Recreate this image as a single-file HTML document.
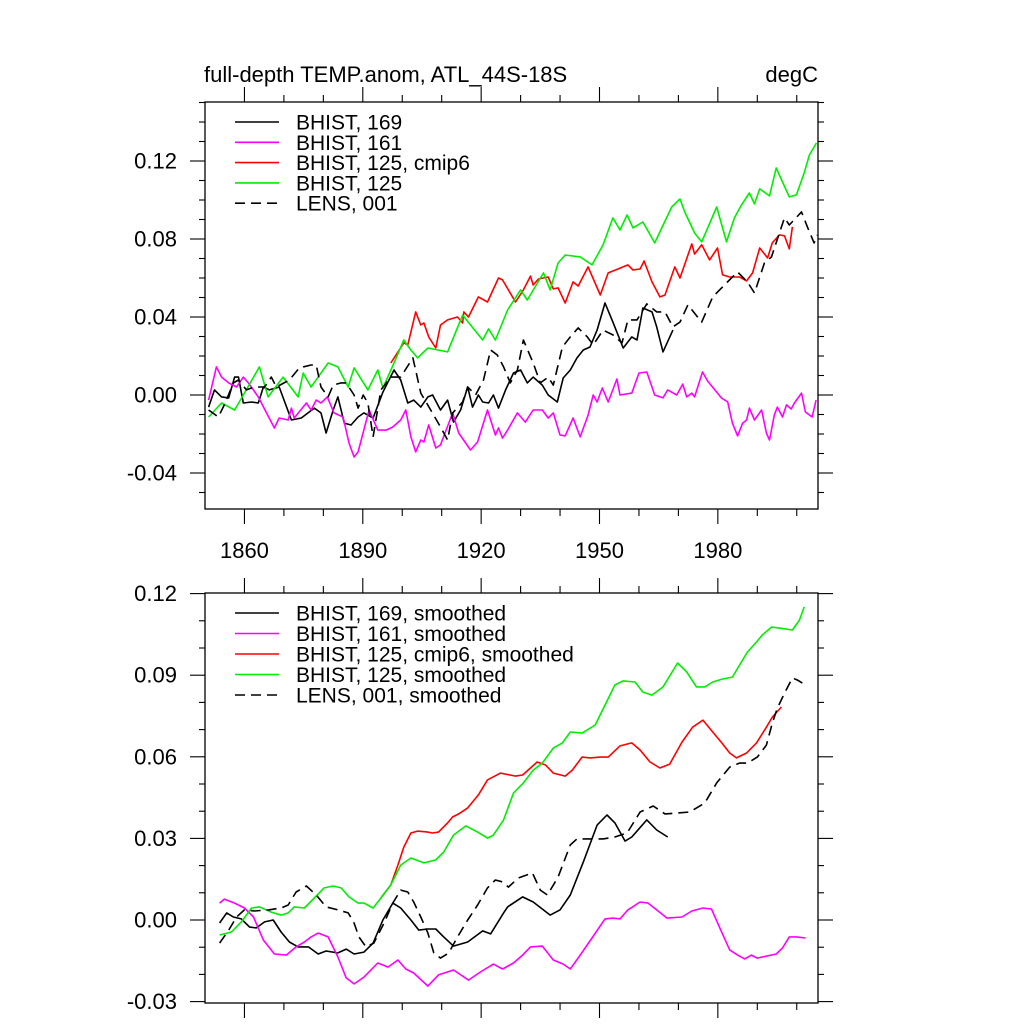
<!DOCTYPE html>
<html><head><meta charset="utf-8"><style>
html,body{margin:0;padding:0;background:#fff;}
svg{display:block;font-family:"Liberation Sans",sans-serif;}
</style></head><body>
<svg id="chart" width="1024" height="1024" viewBox="0 0 1024 1024" xmlns="http://www.w3.org/2000/svg"></svg>
<script>
// ---------- data (top panel: annual) ----------
const yrsGreenA=[1850.9,1854.2,1857.5,1860,1863.8,1866,1869.8,1873.6,1874.9,1876.9,1881.2,1883.7,1886.3,1887.8,1891.3,1893.8,1895.1,1897.9,1900.4,1902.2,1903.9,1906.5,1911.5,1915.3,1920.4,1921.9,1923.6,1926.7,1930,1931.7,1935.8,1937.5,1939.5,1941.3,1945.1,1948.1,1950.9,1953.4,1955.2,1957,1958.5,1961,1964,1968.3,1970.4,1971.6,1974.1,1975.9,1979.7,1982.2,1984.2,1986,1988,1989.3,1990.6,1993.1,1994.8,1998.1,1999.9,2001.9,2003.2,2005];
const valGreenA=[-0.0113,-0.0041,-0.0077,0.0010,0.0144,-0.0010,0.0092,-0.0010,0.0113,0.0041,0.0164,0.0144,0.0041,0.0139,0.0026,0.0128,0.0036,0.0164,0.0282,0.0231,0.0190,0.0241,0.0221,0.0410,0.0282,0.0339,0.0282,0.0436,0.0539,0.0487,0.0626,0.0539,0.0677,0.0718,0.0708,0.0667,0.0770,0.0908,0.0846,0.0923,0.0857,0.0887,0.0780,0.0964,0.1005,0.0939,0.0831,0.0785,0.0964,0.0785,0.0908,0.0975,0.1036,0.0980,0.1057,0.1021,0.1164,0.1016,0.1026,0.1139,0.1231,0.1293];
const yrsRedA=[1897.1,1900.4,1901.4,1903.4,1904.7,1905.5,1906.7,1908.5,1909.7,1911.5,1914,1915.3,1915.6,1916.8,1919.3,1921.6,1924.4,1925.4,1928.7,1930.7,1932.5,1933.2,1934.5,1937,1938.3,1939.5,1941.3,1943.3,1944.6,1947.1,1950.2,1952.2,1954.7,1957.2,1958.5,1960.3,1961.3,1963.3,1965.3,1966.6,1969.1,1970.4,1973.4,1974.1,1975.9,1977.9,1979.9,1981.2,1983,1985.5,1987.3,1988.8,1990.6,1992.6,1993.8,1995.6,1996.9,1998.1,1998.9];
const valRedA=[0.0164,0.0267,0.0257,0.0426,0.0359,0.0369,0.0298,0.0241,0.0359,0.0385,0.0400,0.0369,0.0426,0.0400,0.0503,0.0477,0.0600,0.0590,0.0477,0.0539,0.0610,0.0564,0.0595,0.0605,0.0544,0.0549,0.0472,0.0580,0.0559,0.0657,0.0513,0.0626,0.0646,0.0667,0.0641,0.0646,0.0687,0.0580,0.0503,0.0513,0.0657,0.0600,0.0775,0.0723,0.0770,0.0693,0.0754,0.0616,0.0605,0.0605,0.0585,0.0626,0.0754,0.0703,0.0780,0.0821,0.0816,0.0749,0.0862];
const yrsMagA=[1850.9,1852.9,1854.2,1856,1858,1859.7,1861,1863.5,1865.6,1867.6,1868.8,1871.1,1871.9,1872.6,1875.7,1876.9,1878.2,1879.4,1881,1882.7,1885,1886.5,1887.8,1888.8,1891.6,1893.8,1895.9,1897.6,1899.6,1900.9,1902.2,1903.4,1904.7,1905.5,1906.7,1908.5,1909.7,1912.8,1914.3,1917.3,1919.1,1921.6,1923.6,1924.4,1925.4,1926.7,1929.2,1931.2,1933.2,1935.5,1937,1938.3,1940,1941.3,1943.3,1945.1,1947.1,1948.4,1949.4,1950.7,1952.2,1954.4,1955.2,1958.2,1960,1962,1964,1966.1,1967.3,1969.6,1971.1,1972.1,1973.4,1974.1,1976.1,1977.4,1980.9,1982.5,1983.7,1985,1986.3,1987.3,1988,1989.3,1991.1,1992.3,1993.1,1994.3,1995.1,1996.4,1997.4,1998.6,1999.4,2001.2,2002.2,2003.9,2004.9];
const valMagA=[-0.0026,0.0144,0.0092,0.0062,0.0041,0.0092,0.0062,-0.0010,-0.0092,-0.0169,-0.0118,-0.0128,-0.0067,-0.0118,-0.0041,-0.0077,-0.0026,-0.0041,-0.0010,-0.0092,-0.0113,-0.0246,-0.0318,-0.0292,-0.0077,-0.0180,-0.0180,-0.0164,-0.0128,-0.0077,-0.0215,-0.0292,-0.0231,-0.0241,-0.0154,-0.0272,-0.0256,-0.0092,-0.0195,-0.0282,-0.0241,-0.0077,-0.0205,-0.0169,-0.0221,-0.0180,-0.0092,-0.0139,-0.0077,-0.0077,-0.0118,-0.0092,-0.0205,-0.0210,-0.0118,-0.0215,-0.0103,0.0000,-0.0036,0.0036,-0.0036,0.0082,0.0000,0.0010,0.0113,0.0118,0.0000,-0.0015,0.0026,0.0000,0.0056,-0.0010,0.0010,-0.0010,0.0118,0.0072,-0.0015,-0.0036,-0.0144,-0.0210,-0.0144,-0.0128,-0.0067,-0.0128,-0.0077,-0.0195,-0.0231,-0.0103,-0.0062,-0.0113,-0.0051,-0.0072,-0.0041,0.0010,-0.0087,-0.0113,-0.0026];
const yrsBlkA=[1850.9,1852.4,1854.2,1856,1857.5,1858.5,1859.7,1861.8,1863.5,1864.8,1866.3,1868.8,1871.9,1874.4,1877.7,1879.4,1880.7,1882.5,1883.7,1885.3,1887,1888.8,1890.3,1892.6,1895.1,1897.9,1899.6,1901.4,1902.9,1904.7,1906.5,1907.7,1909.7,1911.5,1913,1914.8,1916.6,1917.8,1919.3,1920.4,1921.9,1923.1,1924.4,1926.2,1928.2,1930,1931.7,1933.2,1935.5,1937,1939.3,1940.8,1942.6,1944.3,1945.9,1947.6,1949.4,1951.4,1953.4,1956,1958.2,1959.5,1961,1963.3,1964.5,1966.1,1968.6];
const valBlkA=[-0.0062,0.0026,-0.0010,-0.0015,0.0092,0.0092,-0.0041,-0.0036,-0.0041,0.0041,0.0026,0.0041,-0.0128,-0.0118,-0.0067,-0.0092,-0.0195,-0.0077,-0.0010,-0.0144,-0.0154,-0.0113,-0.0092,-0.0118,0.0015,0.0128,0.0077,-0.0041,-0.0026,-0.0062,-0.0010,0.0000,-0.0077,-0.0026,-0.0139,-0.0077,0.0041,-0.0062,0.0000,-0.0036,-0.0041,0.0000,-0.0067,0.0026,0.0113,0.0128,0.0062,0.0092,0.0051,0.0000,-0.0036,0.0087,0.0128,0.0190,0.0231,0.0246,0.0333,0.0472,0.0374,0.0241,0.0298,0.0282,0.0446,0.0426,0.0349,0.0221,0.0333];
const yrsLensA=[1850.9,1853.4,1854.9,1857.2,1858.5,1860.5,1862.5,1865.1,1866.8,1868.1,1871.4,1873.9,1876.9,1878.2,1879.4,1881.2,1882.5,1884.5,1885.8,1887.8,1888.8,1890.1,1891.3,1892.6,1894.6,1897.1,1899.6,1902.7,1904.7,1907.2,1909.7,1911.5,1912.8,1915.3,1916.6,1918.6,1920.6,1922.4,1924.1,1925.7,1927.4,1929.2,1930.7,1933.2,1935,1937,1938.3,1940.6,1942.6,1944.6,1946.9,1948.4,1950.9,1953.4,1955.7,1957.2,1959.5,1962,1964.5,1966.6,1968.6,1970.4,1972.4,1975.9,1978.7,1982.2,1985,1987.5,1989.3,1991.8,1993.6,1995.6,1996.9,1998.1,2001.2,2002.7,2004.4,2005.2];
const valLensA=[-0.0077,-0.0113,-0.0051,0.0062,0.0077,0.0026,0.0041,0.0041,0.0092,0.0041,0.0077,0.0139,0.0154,0.0154,0.0041,-0.0010,0.0051,0.0062,0.0062,0.0000,-0.0067,0.0000,-0.0041,-0.0215,0.0026,0.0092,0.0092,0.0190,0.0010,-0.0077,-0.0164,-0.0231,-0.0092,-0.0036,0.0041,0.0000,0.0077,0.0231,0.0205,0.0144,0.0062,0.0128,0.0282,0.0164,0.0062,0.0092,0.0051,0.0246,0.0298,0.0344,0.0298,0.0257,0.0333,0.0308,0.0267,0.0385,0.0385,0.0467,0.0426,0.0426,0.0349,0.0374,0.0462,0.0374,0.0503,0.0575,0.0631,0.0580,0.0523,0.0677,0.0708,0.0831,0.0908,0.0872,0.0939,0.0862,0.0780,0.0821];
// ---------- data (bottom panel: smoothed) ----------
const yrsGreenB=[1853.7,1856.7,1859.2,1861.8,1863.8,1866.8,1869.3,1871.1,1872.6,1875.2,1877.7,1880.2,1882.5,1884.5,1886.5,1888.8,1890.3,1892.6,1894.6,1897.1,1899.6,1902.2,1905.5,1908.5,1910.5,1913,1916.1,1919.1,1921.6,1923.1,1925.7,1928.2,1930.7,1933.2,1935.5,1938.3,1940.6,1942.6,1945.6,1948.9,1951.4,1953.9,1956,1959,1961,1963.3,1966.1,1969.8,1972.1,1974.6,1976.7,1978.7,1981.2,1983.7,1985.5,1987.5,1989.8,1991.3,1993.6,1995.6,1998.9,2000.7,2001.9];
const valGreenB=[-0.0055,-0.0044,-0.0007,0.0044,0.0048,0.0029,0.0018,0.0026,0.0048,0.0044,0.0081,0.0118,0.0125,0.0118,0.0085,0.0062,0.0062,0.0044,0.0081,0.0129,0.0202,0.0228,0.0210,0.0221,0.0250,0.0312,0.0346,0.0323,0.0301,0.0312,0.0368,0.0467,0.0504,0.0551,0.0577,0.0632,0.0651,0.0691,0.0687,0.0717,0.0790,0.0864,0.0879,0.0875,0.0838,0.0827,0.0857,0.0945,0.0912,0.0857,0.0857,0.0875,0.0886,0.0893,0.0937,0.0985,0.1022,0.1048,0.1077,0.1073,0.1066,0.1103,0.1151];
const yrsRedB=[1894.6,1897.1,1898.9,1900.4,1902.2,1903.9,1906.5,1907.7,1909.2,1911.5,1912.8,1914.3,1916.6,1919.3,1921.6,1924.9,1928.7,1930.5,1934.2,1936.3,1938.3,1941.3,1943.1,1945.6,1947.6,1950.2,1952.2,1955.2,1958.2,1960.3,1962.8,1965.3,1967.8,1970.9,1973.6,1976.2,1978.7,1981,1983,1984.7,1987.3,1989.8,1992.3,1993.8,1996.1];
const valRedB=[0.0081,0.0129,0.0202,0.0268,0.0320,0.0327,0.0323,0.0320,0.0323,0.0357,0.0379,0.0390,0.0412,0.0460,0.0515,0.0540,0.0529,0.0533,0.0581,0.0570,0.0540,0.0529,0.0551,0.0599,0.0596,0.0599,0.0599,0.0640,0.0651,0.0625,0.0581,0.0559,0.0573,0.0654,0.0709,0.0735,0.0691,0.0651,0.0614,0.0596,0.0614,0.0651,0.0709,0.0746,0.0783];
const yrsMagB=[1853.7,1854.9,1857.5,1860,1862.3,1864.8,1867.6,1870.6,1873.1,1875.2,1876.9,1878.7,1881.2,1883.7,1885.8,1887.8,1890.3,1893.8,1896.4,1898.9,1900.9,1902.9,1906.5,1909.2,1913,1916.8,1919.8,1923.1,1925.4,1928.2,1930.5,1932.5,1935.5,1938.3,1940.8,1942.6,1945.1,1948.1,1951.4,1953.4,1955.2,1957.2,1960.3,1962.3,1964.5,1967.1,1970.9,1973.4,1976.2,1978.4,1980.5,1983,1985,1986.8,1988.5,1990,1994.8,1996.4,1998.1,1999.9,2002.2];
const valMagB=[0.0062,0.0077,0.0062,0.0044,0.0011,-0.0074,-0.0125,-0.0129,-0.0099,-0.0081,-0.0062,-0.0048,-0.0062,-0.0136,-0.0213,-0.0235,-0.0210,-0.0158,-0.0173,-0.0147,-0.0180,-0.0195,-0.0243,-0.0202,-0.0184,-0.0221,-0.0191,-0.0162,-0.0180,-0.0158,-0.0129,-0.0099,-0.0096,-0.0147,-0.0162,-0.0180,-0.0129,-0.0066,0.0004,0.0007,0.0004,0.0037,0.0066,0.0062,0.0037,0.0007,0.0011,0.0033,0.0044,0.0040,-0.0029,-0.0110,-0.0129,-0.0143,-0.0129,-0.0140,-0.0125,-0.0103,-0.0062,-0.0062,-0.0066];
const yrsBlkB=[1853.7,1855.5,1857.2,1859.2,1861.3,1863,1865.1,1867.3,1869.3,1871.4,1873.6,1876.2,1878.7,1880.7,1883.7,1885.8,1887.8,1890.3,1892.6,1895.1,1897.6,1899.6,1902.2,1904.2,1906.5,1908.5,1910.5,1913,1916.6,1920.4,1922.4,1925.7,1926.7,1930.5,1933.2,1937.5,1940,1942.6,1945.9,1949.4,1951.9,1953.9,1956.5,1958.2,1962,1964.5,1967.3];
const valBlkB=[-0.0011,0.0026,0.0011,0.0004,-0.0026,-0.0029,-0.0007,0.0000,-0.0044,-0.0081,-0.0099,-0.0099,-0.0125,-0.0114,-0.0121,-0.0107,-0.0125,-0.0118,-0.0085,0.0000,0.0062,0.0044,0.0000,-0.0037,-0.0033,-0.0033,-0.0062,-0.0096,-0.0081,-0.0040,-0.0051,0.0026,0.0048,0.0085,0.0066,0.0018,0.0037,0.0092,0.0213,0.0349,0.0386,0.0357,0.0290,0.0305,0.0368,0.0331,0.0305];
const yrsLensB=[1853.7,1856,1858,1860,1862.5,1866.1,1869.3,1871.1,1873.1,1875.7,1878.2,1880.7,1883.7,1886.3,1887.8,1889,1890.8,1892.8,1895.4,1897.6,1899.6,1901.4,1902.9,1904.7,1906.5,1908,1909.7,1911.8,1914,1916.6,1919.1,1921.6,1923.6,1925.4,1926.9,1929.4,1933,1935,1936.8,1939.5,1942.6,1944.3,1947.6,1950.9,1953.9,1957,1960.3,1963.6,1966.6,1969.6,1972.9,1976.7,1979.7,1983,1985.5,1987.5,1990,1992.3,1993.8,1995.1,1996.9,1998.9,2000.2,2001.4];
const valLensB=[-0.0085,-0.0037,0.0011,0.0037,0.0033,0.0037,0.0044,0.0055,0.0103,0.0125,0.0092,0.0048,0.0037,0.0026,-0.0011,-0.0062,-0.0099,-0.0085,-0.0011,0.0062,0.0110,0.0103,0.0066,0.0011,-0.0048,-0.0121,-0.0140,-0.0121,-0.0062,0.0000,0.0055,0.0118,0.0147,0.0140,0.0121,0.0154,0.0173,0.0110,0.0092,0.0158,0.0276,0.0298,0.0298,0.0298,0.0305,0.0320,0.0397,0.0419,0.0390,0.0393,0.0397,0.0430,0.0504,0.0562,0.0577,0.0577,0.0599,0.0643,0.0724,0.0779,0.0834,0.0890,0.0882,0.0871];
const topYTicks=[-0.04,0.00,0.04,0.08,0.12];
const topYLabels=["-0.04","0.00","0.04","0.08","0.12"];
const botYTicks=[-0.03,0.00,0.03,0.06,0.09,0.12];
const botYLabels=["-0.03","0.00","0.03","0.06","0.09","0.12"];
const xTickYears=[1860,1890,1920,1950,1980];
const xTickLabels=["1860","1890","1920","1950","1980"];

// ---------- geometry ----------
const L=205,R=818;
const T1=102,B1=509,T2=593,B2=1003;
const GREEN='#00ee00';
function xScale(yr){return L+(yr-1850)*3.945;}
function yTop(v){return 395-v*1950;}
function yBot(v){return 920-v*2720;}
const NS="http://www.w3.org/2000/svg";
const svg=document.getElementById('chart');
function mk(tag,attrs,parent){const e=document.createElementNS(NS,tag);for(const k in attrs)e.setAttribute(k,attrs[k]);(parent||svg).appendChild(e);return e;}

function panel(name,T,B,ys,yTicks,yLabels,minorStep,yMinV,yMaxV,showXLabels){
  const g=mk('g',{});
  
  
  const box=mk('rect',{x:L,y:T,width:R-L,height:B-T,fill:'none',stroke:'#000','stroke-width':1.3},g);
  
  
  for(let v=Math.ceil(yMinV/minorStep)*minorStep; v<=yMaxV+1e-9; v+=minorStep){
    const y=ys(v); if(y<T-0.5||y>B+0.5) continue;
    const major=yTicks.some(t=>Math.abs(t-v)<1e-6);
    const len=major?15:6;
    const t1=mk('line',{x1:L-len,x2:L,y1:y,y2:y,stroke:'#000','stroke-width':1.1},g);
    
    
    const t2=mk('line',{x1:R,x2:R+len,y1:y,y2:y,stroke:'#000','stroke-width':1.1},g);
    
    
  }
  yTicks.forEach((v,i)=>{
    const t=mk('text',{x:177,y:ys(v)+7.5,'text-anchor':'end','font-size':22,fill:'#000'},g);
    t.textContent=yLabels[i];
    
    
  });
  for(let yr=1860; yr<=2000; yr+=10){
    const x=xScale(yr);
    const major=xTickYears.includes(yr);
    const len=major?15:7;
    const a=mk('line',{x1:x,x2:x,y1:B,y2:B+len,stroke:'#000','stroke-width':1.1},g);
    
    
    const b=mk('line',{x1:x,x2:x,y1:T-len,y2:T,stroke:'#000','stroke-width':1.1},g);
    
    
  }
  if(showXLabels){
    xTickYears.forEach((yr,i)=>{
      const t=mk('text',{x:xScale(yr),y:558,'text-anchor':'middle','font-size':22,fill:'#000'},g);
      t.textContent=xTickLabels[i];
      
      
    });
  }
  return g;
}
function series(name,yrs,vals,ys,color,dash,T,B){
  const clipId='clip'+T;
  let d='';
  yrs.forEach((yr,i)=>{d+=(i?'L':'M')+xScale(yr).toFixed(1)+','+ys(vals[i]).toFixed(1);});
  const p=mk('path',{d:d,fill:'none',stroke:color,'stroke-width':1.6,'stroke-linejoin':'round','clip-path':'url(#'+clipId+')'});
  if(dash)p.setAttribute('stroke-dasharray','10,6');
  
  
}
const defs=mk('defs',{});
[[T1,B1],[T2,B2]].forEach(([T,B])=>{const c=mk('clipPath',{id:'clip'+T},defs);mk('rect',{x:L,y:T,width:R-L,height:B-T},c);});

panel('top-panel',T1,B1,yTop,topYTicks,topYLabels,0.01,-0.06,0.15,true);
panel('bottom-panel',T2,B2,yBot,botYTicks,botYLabels,0.01,-0.03,0.12,false);

series('line-bhist-169',yrsBlkA,valBlkA,yTop,'#000',false,T1,B1);
series('line-bhist-161',yrsMagA,valMagA,yTop,'#ff00ff',false,T1,B1);
series('line-bhist-125-cmip6',yrsRedA,valRedA,yTop,'#ff0000',false,T1,B1);
series('line-bhist-125',yrsGreenA,valGreenA,yTop,GREEN,false,T1,B1);
series('line-lens-001',yrsLensA,valLensA,yTop,'#000',true,T1,B1);

series('line-bhist-169-smoothed',yrsBlkB,valBlkB,yBot,'#000',false,T2,B2);
series('line-bhist-161-smoothed',yrsMagB,valMagB,yBot,'#ff00ff',false,T2,B2);
series('line-bhist-125-cmip6-smoothed',yrsRedB,valRedB,yBot,'#ff0000',false,T2,B2);
series('line-bhist-125-smoothed',yrsGreenB,valGreenB,yBot,GREEN,false,T2,B2);
series('line-lens-001-smoothed',yrsLensB,valLensB,yBot,'#000',true,T2,B2);

const legColors=['#000','#ff00ff','#ff0000',GREEN,'#000'];
const legDash=[false,false,false,false,true];
const legTop=['BHIST, 169','BHIST, 161','BHIST, 125, cmip6','BHIST, 125','LENS, 001'];
const legBot=['BHIST, 169, smoothed','BHIST, 161, smoothed','BHIST, 125, cmip6, smoothed','BHIST, 125, smoothed','LENS, 001, smoothed'];
function legend(name,labels,y0,step){
  labels.forEach((lab,i)=>{
    const y=y0+i*step;
    const ln=mk('line',{x1:235,x2:279,y1:y,y2:y,stroke:legColors[i],'stroke-width':1.6});
    if(legDash[i])ln.setAttribute('stroke-dasharray','10,6');
    
    
    const t=mk('text',{x:296,y:y+7.5,'font-size':21,fill:'#000'});
    t.textContent=lab;
    
    
  });
}
legend('top-legend',legTop,122,20.3);
legend('bottom-legend',legBot,613,20.5);

const t1=mk('text',{x:204,y:82,'font-size':22,fill:'#000'});
t1.textContent='full-depth TEMP.anom, ATL_44S-18S';


const t2=mk('text',{x:818,y:82,'font-size':22,fill:'#000','text-anchor':'end'});
t2.textContent='degC';


</script>
</body></html>
